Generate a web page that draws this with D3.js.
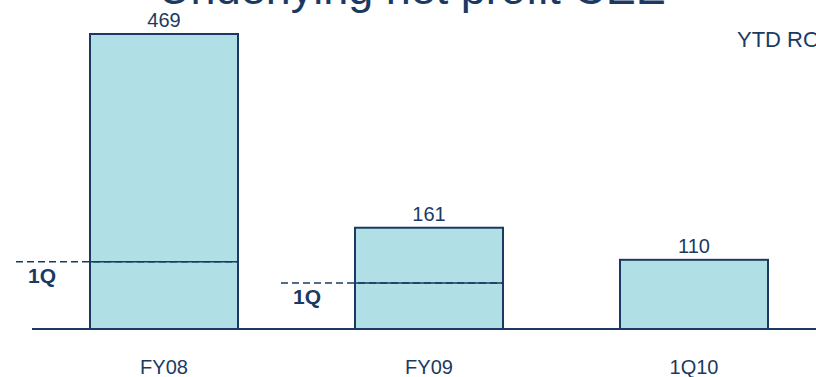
<!DOCTYPE html>
<html><head><meta charset="utf-8">
<script src="https://cdn.jsdelivr.net/npm/d3@7"></script>
<style>html,body{margin:0;padding:0;background:#fff;overflow:hidden}</style>
</head><body>
<svg id="c" width="816" height="377"></svg>
<script>
const categories = ["FY08", "FY09", "1Q10"];
const values = [469, 161, 110];
const firstQuarter = [107, 73, null];
const quarterLabel = "1Q";
const title = "Underlying net profit CEE";
const unitLabel = "YTD RON m";

const navy = "#1b3a63";
const fill = "#b0dfe5";
const font = "Liberation Sans, Arial, sans-serif";

const svg = d3.select("#c");
const x = d3.scaleBand().domain(categories).range([31.5, 826.5]).paddingInner(0.4415).paddingOuter(0.22075);
const y = d3.scaleLinear().domain([0, d3.max(values)]).range([329, 34]);

svg.append("text").attr("x", 412).attr("y", 4).attr("text-anchor", "middle")
  .attr("font-family", font).attr("font-size", 45).attr("fill", navy).text(title);
svg.append("text").attr("x", 737).attr("y", 47).attr("font-family", font)
  .attr("font-size", 22).attr("fill", navy).text(unitLabel);

svg.selectAll("rect.bar").data(categories).enter().append("rect").attr("class", "bar")
  .attr("x", d => x(d)).attr("width", x.bandwidth())
  .attr("y", (d, i) => y(values[i])).attr("height", (d, i) => y(0) - y(values[i]))
  .attr("fill", fill).attr("stroke", navy).attr("stroke-width", 2);

svg.selectAll("text.val").data(categories).enter().append("text").attr("class", "val")
  .attr("x", d => x(d) + x.bandwidth() / 2).attr("y", (d, i) => y(values[i]) - 7)
  .attr("text-anchor", "middle").attr("font-family", font).attr("font-size", 20)
  .attr("fill", navy).text((d, i) => values[i]);

// baseline axis
svg.append("line").attr("x1", 32).attr("x2", 816).attr("y1", y(0)).attr("y2", y(0))
  .attr("stroke", navy).attr("stroke-width", 2);

// category labels
svg.selectAll("text.cat").data(categories).enter().append("text").attr("class", "cat")
  .attr("x", d => x(d) + x.bandwidth() / 2).attr("y", 374)
  .attr("text-anchor", "middle").attr("font-family", font).attr("font-size", 20)
  .attr("fill", navy).text(d => d);

// 1Q markers
const q = categories.map((c, i) => ({c, v: firstQuarter[i]})).filter(d => d.v != null);
const qg = svg.selectAll("g.q").data(q).enter().append("g").attr("class", "q");
qg.append("line").attr("x1", d => x(d.c) - 74).attr("x2", d => x(d.c) + x.bandwidth())
  .attr("y1", d => y(d.v)).attr("y2", d => y(d.v))
  .attr("stroke", navy).attr("stroke-width", 1.5).attr("stroke-dasharray", "7,4");
qg.append("line").attr("x1", d => x(d.c)).attr("x2", d => x(d.c) + x.bandwidth())
  .attr("y1", d => y(d.v)).attr("y2", d => y(d.v))
  .attr("stroke", navy).attr("stroke-width", 1.5);
qg.append("text").attr("x", d => x(d.c) - 62).attr("y", d => y(d.v) + 21)
  .attr("font-family", font).attr("font-size", 21).attr("font-weight", "bold")
  .attr("fill", navy).text(quarterLabel);
</script>
</body></html>
